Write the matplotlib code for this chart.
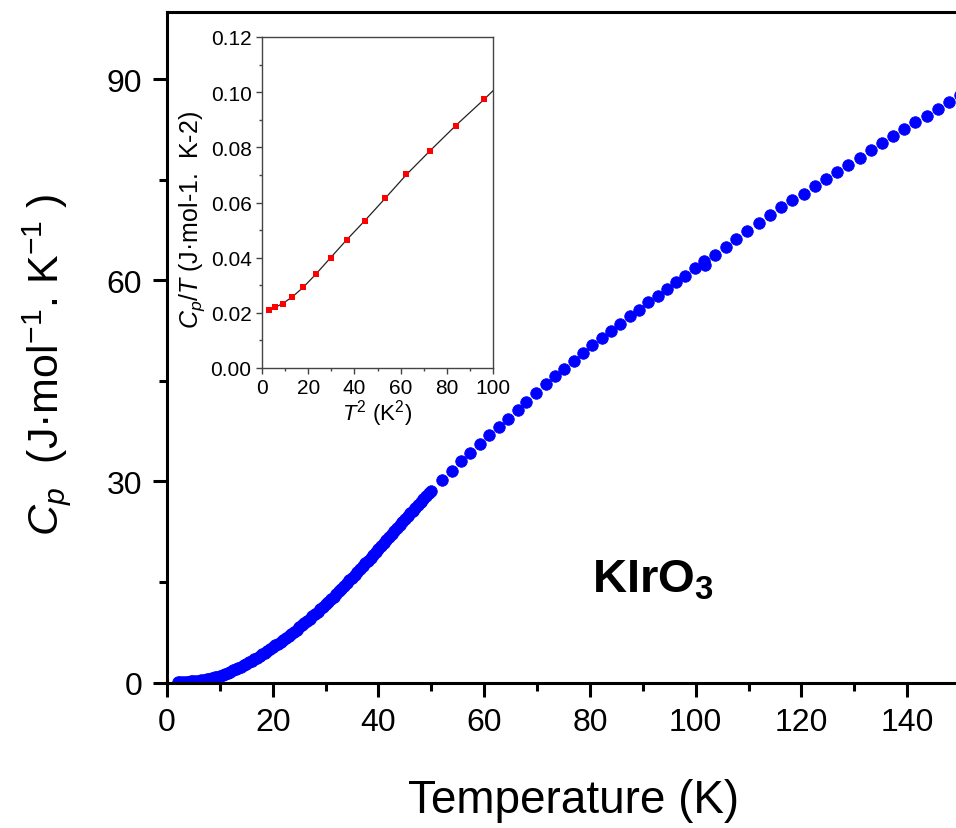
import matplotlib
matplotlib.use('Agg')
import matplotlib.pyplot as plt
from matplotlib.ticker import MultipleLocator, FormatStrFormatter

plt.rcParams['font.family'] = 'Liberation Sans'
plt.rcParams['mathtext.fontset'] = 'custom'
plt.rcParams['mathtext.rm'] = 'Liberation Sans'
plt.rcParams['mathtext.it'] = 'Liberation Sans:italic'
plt.rcParams['mathtext.bf'] = 'Liberation Sans:bold'

# main curve, low-T run (dense)
T_low = [2.0, 2.5, 3.0, 3.5, 4.0, 4.5, 5.0, 5.5, 6.0, 6.5, 7.0, 7.5, 8.0, 8.5, 9.0, 9.5,
         10.0, 10.5, 11.0, 11.5, 12.0, 12.5, 13.0, 13.5, 14.0, 14.5, 15.0, 15.5, 16.0, 16.5,
         17.0, 17.5, 18.0, 18.5, 19.0, 19.5, 20.0, 20.5, 21.0, 21.5, 22.0, 22.5, 23.0, 23.5,
         24.0, 24.5, 25.0, 25.5, 26.0, 26.5, 27.0, 27.5, 28.0, 28.5, 29.0, 29.5, 30.0, 30.5,
         31.0, 31.5, 32.0, 32.5, 33.0, 33.5, 34.0, 34.5, 35.0, 35.5, 36.0, 36.5, 37.0, 37.5,
         38.0, 38.5, 39.0, 39.5, 40.0, 40.5, 41.0, 41.5, 42.0, 42.5, 43.0, 43.5, 44.0, 44.5,
         45.0, 45.5, 46.0, 46.5, 47.0, 47.5, 48.0, 48.5, 49.0, 49.5, 50.0]
Cp_low = [0.04, 0.05, 0.07, 0.09, 0.12, 0.15, 0.18, 0.22, 0.27, 0.33, 0.40, 0.49, 0.58, 0.68, 0.79, 0.89,
          1.00, 1.14, 1.29, 1.45, 1.62, 1.79, 1.97, 2.16, 2.36, 2.57, 2.79, 3.01, 3.24, 3.47,
          3.71, 3.95, 4.20, 4.46, 4.72, 4.99, 5.26, 5.53, 5.81, 6.09, 6.38, 6.67, 6.97, 7.27,
          7.57, 7.89, 8.21, 8.53, 8.86, 9.19, 9.53, 9.88, 10.23, 10.58, 10.94, 11.30, 11.67, 12.05,
          12.43, 12.81, 13.20, 13.60, 14.00, 14.40, 14.81, 15.22, 15.64, 16.06, 16.48, 16.90, 17.33, 17.76,
          18.19, 18.62, 19.06, 19.50, 19.94, 20.38, 20.82, 21.26, 21.70, 22.14, 22.58, 23.02, 23.46, 23.90,
          24.34, 24.78, 25.21, 25.64, 26.07, 26.50, 26.93, 27.36, 27.79, 28.21, 28.63]

# middle run
T_mid = [52.1, 53.9, 55.7, 57.4, 59.2, 61.0, 62.8, 64.5, 66.3, 68.0, 69.8, 71.6, 73.3, 75.1,
         76.9, 78.6, 80.4, 82.2, 83.9, 85.7, 87.5, 89.3, 91.0, 92.8, 94.5, 96.3, 98.0, 99.8, 101.5]
Cp_mid = [30.2, 31.6, 33.0, 34.3, 35.6, 36.9, 38.1, 39.3, 40.6, 41.9, 43.2, 44.5, 45.7, 46.8,
          48.0, 49.2, 50.3, 51.4, 52.4, 53.5, 54.6, 55.6, 56.7, 57.7, 58.7, 59.7, 60.7, 61.8, 62.9]

# high-T run
T_high = [101.7, 103.6, 105.7, 107.7, 109.8, 111.9, 114.0, 116.2, 118.3, 120.4, 122.5, 124.6,
          126.8, 128.9, 131.0, 133.1, 135.2, 137.3, 139.4, 141.5, 143.7, 145.8, 147.9, 150.0]
Cp_high = [62.3, 63.7, 64.9, 66.1, 67.3, 68.6, 69.7, 70.9, 72.0, 72.9, 74.0, 75.1,
           76.1, 77.2, 78.2, 79.4, 80.5, 81.5, 82.5, 83.6, 84.5, 85.6, 86.6, 87.6]

# inset: Cp/T vs T^2
T2_pts = [3.2, 5.8, 9.0, 13.0, 17.8, 23.3, 29.7, 36.7, 44.5, 53.2, 62.5, 72.8, 84.0, 95.9]
CpT_pts = [0.0212, 0.0221, 0.0233, 0.0257, 0.0294, 0.0341, 0.0400, 0.0464, 0.0533, 0.0615,
           0.0702, 0.0788, 0.0878, 0.0974]
fit_x = [3.2, 5.8, 9.0, 13.0, 17.8, 23.3, 29.7, 36.7, 44.5, 53.2, 62.5, 72.8, 84.0, 95.9, 100.0]
fit_y = [0.0210, 0.0220, 0.0234, 0.0257, 0.0292, 0.0340, 0.0400, 0.0465, 0.0534, 0.0614,
         0.0701, 0.0788, 0.0880, 0.0972, 0.1005]

fig = plt.figure(figsize=(9.56, 8.29), dpi=100)
ax = fig.add_axes([167/956, 145.5/829, 793/956, 670.5/829])

for tt, cc in [(T_low, Cp_low), (T_mid, Cp_mid), (T_high, Cp_high)]:
    ax.plot(tt, cc, 'o', color='#0000ff', markersize=8.3, markeredgewidth=0.6)

ax.set_xlim(0, 150)
ax.set_ylim(0, 100)
ax.xaxis.set_major_locator(MultipleLocator(20))
ax.xaxis.set_minor_locator(MultipleLocator(10))
ax.yaxis.set_major_locator(MultipleLocator(30))
ax.yaxis.set_minor_locator(MultipleLocator(15))
for s in ax.spines.values():
    s.set_linewidth(2.2)
ax.tick_params(which='both', direction='out', width=2.2, labelsize=23, top=False, right=False)
ax.tick_params(which='major', length=10, pad=8)
ax.tick_params(which='minor', length=6)
ax.set_xlabel('Temperature (K)', fontsize=33)
ax.xaxis.set_label_coords(0.5126, -0.142)
ax.set_ylabel('$C_p$  (J·mol$^{-1}$. K$^{-1}$ )', fontsize=31)
ax.yaxis.set_label_coords(-0.1185, 0.475)
ax.text(0.536, 0.136, r'$\mathbf{KIrO_3}$', fontsize=34, transform=ax.transAxes,
        ha='left', va='baseline')

# inset
ins = fig.add_axes([262/956, 460/829, 231/956, 331/829])
ins.plot(fit_x, fit_y, '-', color='#222222', linewidth=0.9)
ins.plot(T2_pts, CpT_pts, 's', color='#ff0000', markersize=5, markeredgewidth=0)
ins.set_xlim(0, 100)
ins.set_ylim(0, 0.12)
ins.xaxis.set_major_locator(MultipleLocator(20))
ins.xaxis.set_minor_locator(MultipleLocator(10))
ins.yaxis.set_major_locator(MultipleLocator(0.02))
ins.yaxis.set_minor_locator(MultipleLocator(0.01))
ins.yaxis.set_major_formatter(FormatStrFormatter('%.2f'))
for s in ins.spines.values():
    s.set_linewidth(1.0)
    s.set_color('#444444')
ins.tick_params(which='both', direction='out', width=1.0, color='#444444', labelsize=15,
                top=False, right=False)
ins.tick_params(which='major', length=4.5, pad=3)
ins.tick_params(which='minor', length=2.5)
ins.set_xlabel('$T^2$ (K$^2$)', fontsize=16, labelpad=0)
ins.set_ylabel('$C_p/T$ (J·mol-1.  K-2)', fontsize=18)
ins.yaxis.set_label_coords(-0.238, 0.45)

fig.savefig('out.png', dpi=100)
